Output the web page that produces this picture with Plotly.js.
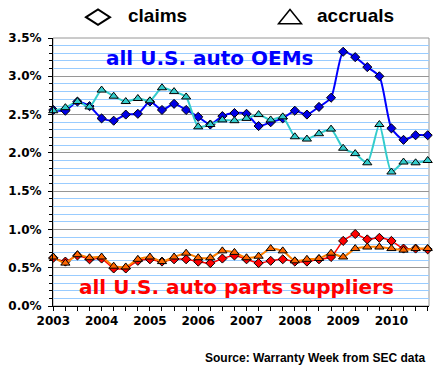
<!DOCTYPE html>
<html>
<head>
<meta charset="utf-8">
<script src="https://cdn.plot.ly/plotly-3.0.1.min.js"></script>
<style>
  html, body { margin: 0; padding: 0; background: #ffffff; }
  #chart { width: 435px; height: 383px; }
</style>
</head>
<body>
<div id="chart"></div>
<script>
// Quarterly categories, 2003 Q1 .. 2010 Q4
const quarters = [
  "2003 Q1","2003 Q2","2003 Q3","2003 Q4",
  "2004 Q1","2004 Q2","2004 Q3","2004 Q4",
  "2005 Q1","2005 Q2","2005 Q3","2005 Q4",
  "2006 Q1","2006 Q2","2006 Q3","2006 Q4",
  "2007 Q1","2007 Q2","2007 Q3","2007 Q4",
  "2008 Q1","2008 Q2","2008 Q3","2008 Q4",
  "2009 Q1","2009 Q2","2009 Q3","2009 Q4",
  "2010 Q1","2010 Q2","2010 Q3","2010 Q4"
];
const yearLabels = ["2003","2004","2005","2006","2007","2008","2009","2010"];

// Warranty claims / accruals as % of product sales
const oemClaims = [2.56,2.55,2.67,2.61,2.45,2.42,2.50,2.51,2.67,2.56,2.64,2.56,
                   2.47,2.37,2.48,2.52,2.51,2.35,2.40,2.45,2.55,2.50,2.60,2.72,
                   3.32,3.25,3.12,3.00,2.32,2.17,2.23,2.23];
const oemAccruals = [2.55,2.59,2.67,2.60,2.82,2.74,2.67,2.71,2.68,2.85,2.80,2.73,
                     2.34,2.37,2.43,2.42,2.45,2.50,2.43,2.47,2.21,2.18,2.25,2.31,
                     2.06,1.99,1.87,2.37,1.75,1.88,1.87,1.90];
const partsClaims = [0.63,0.58,0.66,0.61,0.62,0.49,0.49,0.59,0.61,0.58,0.61,0.61,
                     0.58,0.56,0.62,0.66,0.61,0.56,0.59,0.61,0.58,0.58,0.61,0.64,
                     0.85,0.94,0.87,0.89,0.85,0.75,0.75,0.74];
const partsAccruals = [0.64,0.56,0.67,0.63,0.64,0.52,0.51,0.61,0.64,0.58,0.64,0.69,
                       0.63,0.63,0.72,0.70,0.63,0.65,0.75,0.72,0.59,0.61,0.62,0.69,
                       0.64,0.75,0.77,0.77,0.75,0.73,0.75,0.75];

const xIdx = quarters.map((q, i) => i);
const yearTickVals = yearLabels.map((y, i) => i * 4);

// layout geometry (pixels)
const W = 435, H = 383;
const M = {l: 53, r: 6, t: 38, b: 77};
const PW = W - M.l - M.r, PH = H - M.t - M.b;
const px = v => (v - M.l) / PW;        // pixel x -> paper
const py = v => (H - M.b - v) / PH;    // pixel y -> paper

function series(y, name, lineColor, lineWidth, symbol, fill, size) {
  return {
    x: xIdx, y: y, name: name, type: 'scatter', mode: 'lines+markers',
    line: {color: lineColor, width: lineWidth, shape: 'spline', smoothing: 0.6},
    marker: {symbol: symbol, size: size, color: fill, line: {color: '#000000', width: 1}},
    showlegend: false, cliponaxis: false, hoverinfo: 'skip'
  };
}

const data = [
  series(oemClaims, 'OEM claims', '#0000FF', 2, 'diamond', '#0000E6', 7),
  series(oemAccruals, 'OEM accruals', '#33CCCC', 2, 'triangle-up', '#33CCCC', 8),
  series(partsClaims, 'Parts claims', '#FF0000', 1.5, 'diamond', '#FF0000', 7),
  series(partsAccruals, 'Parts accruals', '#FF8000', 2, 'triangle-up', '#FF6600', 8)
];

const tickFont = {family: 'DejaVu Sans', size: 12, color: '#000000', weight: 'bold'};

const layout = {
  width: W, height: H,
  margin: M,
  paper_bgcolor: '#ffffff', plot_bgcolor: '#ffffff',
  showlegend: false,
  xaxis: {
    range: [-0.025, 31.11], showgrid: false, zeroline: false,
    showline: true, linecolor: '#000000', linewidth: 1,
    tickmode: 'array', tickvals: yearTickVals, ticktext: yearLabels,
    ticks: 'outside', ticklen: 4, tickcolor: '#000000', tickwidth: 1,
    minor: {dtick: 1, tick0: 0, ticks: 'outside', ticklen: 4, tickcolor: '#000000', showgrid: false},
    tickfont: tickFont, fixedrange: true
  },
  yaxis: {
    range: [0, 3.5], dtick: 0.5, tick0: 0, tickformat: '.1f', ticksuffix: '%',
    showgrid: true, gridcolor: '#969696', gridwidth: 1, zeroline: false,
    showline: true, linecolor: '#000000', linewidth: 1,
    ticks: 'outside', ticklen: 4, tickcolor: '#000000',
    minor: {dtick: 0.1, tick0: 0, showgrid: true, gridcolor: '#99CCFF', gridwidth: 1,
            ticks: 'outside', ticklen: 3, tickcolor: '#000000'},
    tickfont: tickFont, ticklabelstandoff: 4, fixedrange: true
  },
  shapes: [
    {type: 'rect', xref: 'paper', yref: 'paper', x0: 0, x1: 1, y0: 0, y1: 1,
     line: {color: '#969696', width: 1}, layer: 'below'},
    // legend symbols
    {type: 'path', xref: 'paper', yref: 'paper',
     path: `M${px(86)},${py(17.2)} L${px(98)},${py(9.5)} L${px(110)},${py(17.2)} L${px(98)},${py(24.9)} Z`,
     line: {color: '#000000', width: 2}, fillcolor: 'rgba(0,0,0,0)'},
    {type: 'path', xref: 'paper', yref: 'paper',
     path: `M${px(278.5)},${py(23.8)} L${px(290)},${py(9.5)} L${px(301.5)},${py(23.8)} Z`,
     line: {color: '#000000', width: 1.5}, fillcolor: 'rgba(0,0,0,0)'}
  ],
  annotations: [
    {text: 'claims', xref: 'paper', yref: 'paper', x: px(126), y: py(15), xanchor: 'left', yanchor: 'middle',
     showarrow: false, font: {family: 'Liberation Sans', size: 19, color: '#000000', weight: 'bold'}},
    {text: 'accruals', xref: 'paper', yref: 'paper', x: px(315), y: py(15), xanchor: 'left', yanchor: 'middle',
     showarrow: false, font: {family: 'Liberation Sans', size: 19, color: '#000000', weight: 'bold'}},
    {text: 'all U.S. auto OEMs', xref: 'paper', yref: 'paper', x: px(209.5), y: py(58), xanchor: 'center', yanchor: 'middle',
     showarrow: false, font: {family: 'DejaVu Sans', size: 20, color: '#0000FF', weight: 'bold'}},
    {text: 'all U.S. auto parts suppliers', xref: 'paper', yref: 'paper', x: px(236), y: py(287), xanchor: 'center', yanchor: 'middle',
     showarrow: false, font: {family: 'DejaVu Sans', size: 20, color: '#FF0000', weight: 'bold'}},
    {text: 'Source: Warranty Week from SEC data', xref: 'paper', yref: 'paper', x: px(427), y: py(357.5), xanchor: 'right', yanchor: 'middle',
     showarrow: false, font: {family: 'Liberation Sans', size: 12, color: '#000000', weight: 'bold'}}
  ]
};

Plotly.newPlot('chart', data, layout, {staticPlot: true, displayModeBar: false});
</script>
</body>
</html>
